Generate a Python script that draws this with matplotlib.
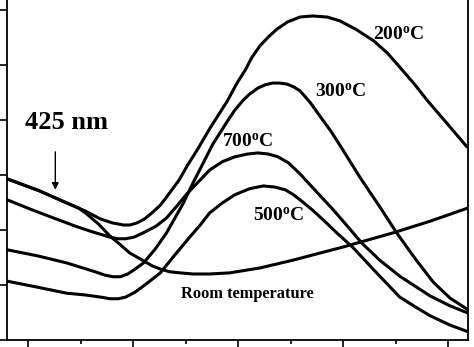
import matplotlib
matplotlib.use("Agg")
import matplotlib.pyplot as plt
from matplotlib.ticker import MultipleLocator, NullFormatter

# absorption spectra (wavelength in nm, absorbance in tick units)
wl_room = [380, 411, 437, 448, 456, 467, 478, 488, 497, 510, 518, 526, 535, 545, 557, 573, 592, 621,
           652, 700, 748, 783, 819]
abs_room = [2.93, 2.71, 2.49, 2.40, 2.29, 2.11, 1.89, 1.73, 1.58, 1.44, 1.35, 1.29, 1.24, 1.22, 1.20,
            1.20, 1.22, 1.31, 1.45, 1.69, 1.95, 2.16, 2.40]

wl_200 = [380, 411, 437, 454, 469, 480, 491, 497, 504, 511, 518, 526, 532, 544, 552, 561, 573, 590,
          599, 607, 613, 621, 629, 637, 647, 659, 671, 685, 697, 712, 729, 742, 754, 768, 780, 802, 818]
abs_200 = [2.93, 2.71, 2.49, 2.35, 2.20, 2.13, 2.09, 2.09, 2.13, 2.20, 2.31, 2.45, 2.60, 2.91, 3.18,
           3.45, 3.84, 4.35, 4.67, 4.91, 5.13, 5.35, 5.51, 5.65, 5.78, 5.87, 5.89, 5.87, 5.80, 5.65,
           5.44, 5.22, 4.96, 4.65, 4.36, 3.87, 3.51]

wl_300 = [380, 409, 437, 464, 473, 481, 488, 495, 502, 510, 521, 532, 540, 548, 557, 564, 576, 590,
          597, 605, 611, 619, 626, 633, 640, 647, 653, 659, 669, 678, 689, 700, 716, 735, 751, 769,
          786, 802, 819]
abs_300 = [1.64, 1.53, 1.40, 1.24, 1.18, 1.15, 1.15, 1.20, 1.29, 1.40, 1.65, 1.95, 2.22, 2.49, 2.85,
           3.11, 3.56, 3.98, 4.18, 4.36, 4.47, 4.58, 4.64, 4.67, 4.67, 4.65, 4.60, 4.53, 4.31, 4.07,
           3.78, 3.45, 2.96, 2.42, 1.95, 1.47, 1.05, 0.76, 0.55]

wl_500 = [380, 409, 437, 454, 469, 478, 486, 493, 502, 514, 526, 540, 554, 564, 573, 585, 597, 611,
          624, 635, 645, 652, 659, 671, 683, 695, 709, 731, 754, 769, 783, 802, 819]
abs_500 = [1.07, 0.96, 0.85, 0.82, 0.78, 0.75, 0.75, 0.78, 0.87, 1.04, 1.22, 1.55, 1.87, 2.09, 2.31,
           2.49, 2.64, 2.75, 2.80, 2.78, 2.73, 2.65, 2.55, 2.36, 2.15, 1.93, 1.69, 1.24, 0.78, 0.60,
           0.44, 0.27, 0.15]

wl_700 = [380, 402, 424, 445, 459, 478, 486, 493, 501, 511, 522, 532, 542, 551, 564, 573, 585, 597,
          609, 619, 629, 638, 648, 659, 673, 691, 705, 718, 735, 754, 783, 802, 819]
abs_700 = [2.55, 2.38, 2.22, 2.07, 1.98, 1.87, 1.84, 1.84, 1.87, 1.96, 2.07, 2.22, 2.44, 2.65, 2.91,
           3.09, 3.24, 3.33, 3.38, 3.40, 3.38, 3.33, 3.22, 3.02, 2.73, 2.36, 2.05, 1.76, 1.45, 1.16,
           0.80, 0.62, 0.49]

series = [
    (wl_room, abs_room),
    (wl_200, abs_200),
    (wl_300, abs_300),
    (wl_500, abs_500),
    (wl_700, abs_700),
]

# label text, wavelength, absorbance (baseline), font size
labels = [
    (r"$\mathbf{200^{o}C}$", 753, 5.45, 14),
    (r"$\mathbf{300^{o}C}$", 698, 4.42, 14),
    (r"$\mathbf{700^{o}C}$", 609, 3.51, 14),
    (r"$\mathbf{500^{o}C}$", 639, 2.16, 14),
    ("Room temperature", 609, 0.76, 11.8),
]

plt.rcParams["font.family"] = ["Liberation Serif", "DejaVu Serif"]
plt.rcParams["mathtext.fontset"] = "custom"
plt.rcParams["mathtext.rm"] = "Liberation Serif"
plt.rcParams["mathtext.bf"] = "Liberation Serif:bold"

fig = plt.figure(figsize=(4.74, 3.47), dpi=100)
ax = fig.add_axes([7 / 474, 7 / 347, 461 / 474, 340 / 347])

for wl, ab in series:
    ax.plot(wl, ab, color="black", linewidth=2.2, solid_joinstyle="round", solid_capstyle="round")

ax.set_xlim(380, 819)
ax.set_ylim(0, 6.18)

for txt, x, y, fs in labels:
    ax.text(x, y, txt, fontsize=fs, fontweight="bold", ha="center", va="baseline")

ax.text(437, 3.84, "425 nm", fontsize=19, fontweight="bold", ha="center", va="baseline")
ax.annotate("", xy=(426, 2.73), xytext=(426, 3.42),
            arrowprops=dict(arrowstyle="-|>", color="black", lw=1.0, mutation_scale=10,
                            shrinkA=0, shrinkB=0))

ax.spines["top"].set_visible(False)
for side in ["left", "bottom", "right"]:
    ax.spines[side].set_linewidth(1.3)

ax.xaxis.set_major_locator(MultipleLocator(100))
ax.xaxis.set_minor_locator(MultipleLocator(50))
ax.yaxis.set_major_locator(MultipleLocator(1))
ax.xaxis.set_major_formatter(NullFormatter())
ax.yaxis.set_major_formatter(NullFormatter())
ax.tick_params(axis="x", which="major", direction="out", length=6, width=1.2, top=False)
ax.tick_params(axis="x", which="minor", direction="out", length=3, width=1.2, top=False)
ax.tick_params(axis="y", which="major", direction="out", length=6, width=1.2, right=False)

fig.savefig("out.png", dpi=100)
